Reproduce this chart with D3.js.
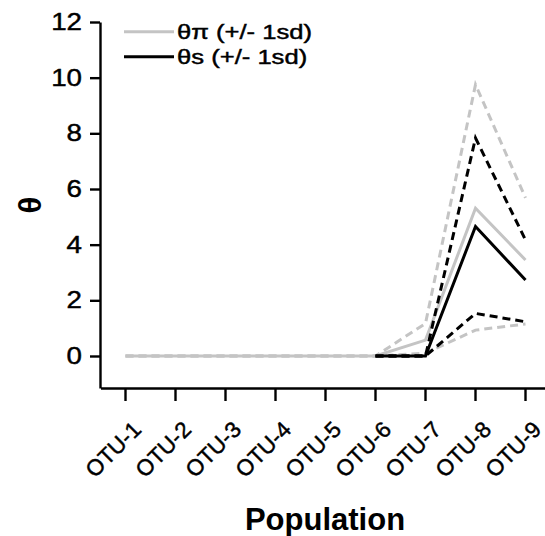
<!DOCTYPE html>
<html>
<head>
<meta charset="utf-8">
<script src="https://cdn.jsdelivr.net/npm/d3@7"></script>
<style>
  body { margin: 0; background: #fff; }
  text { font-family: "Liberation Sans", Arial, Helvetica, sans-serif; }
</style>
</head>
<body>
<svg></svg>
<script>
var populations = ['OTU-1', 'OTU-2', 'OTU-3', 'OTU-4', 'OTU-5', 'OTU-6', 'OTU-7', 'OTU-8', 'OTU-9'];

// theta pi (grey) with +/- 1 sd
var thetaPi      = [0, 0, 0, 0, 0, 0, 0.57, 5.31, 3.45];
var thetaPiUpper = [0, 0, 0, 0, 0, 0, 1.17, 9.75, 5.68];
var thetaPiLower = [0, 0, 0, 0, 0, 0, 0.10, 0.93, 1.15];

// theta s (black) with +/- 1 sd, only drawn from OTU-6 on
var thetaS      = [null, null, null, null, null, 0, 0, 4.65, 2.73];
var thetaSUpper = [null, null, null, null, null, 0, 0, 7.83, 4.17];
var thetaSLower = [null, null, null, null, null, 0, 0, 1.53, 1.23];

var yTicks = [0, 2, 4, 6, 8, 10, 12];
var legendLabels = ['θπ (+/- 1sd)', 'θs (+/- 1sd)'];

var width = 545;
var height = 536;
var grey = '#c4c4c4';

var svg = d3.select('svg')
    .attr('width', width)
    .attr('height', height);

var x = d3.scaleBand()
    .domain(populations)
    .range([100.5, 550.5]);

var y = d3.scaleLinear()
    .domain([-1.15, 12])
    .range([388, 22]);

var xAxis = svg.append('g')
    .attr('transform', 'translate(0,388)')
    .call(d3.axisBottom(x).tickSize(13).tickSizeOuter(0));

xAxis.selectAll('text')
    .attr('x', 0)
    .attr('y', 0)
    .attr('dy', 0)
    .attr('fill', '#000')
    .attr('text-anchor', 'end')
    .style('font-size', '22.5px')
    .attr('transform', 'translate(17,43) rotate(-45)');

var yAxis = svg.append('g')
    .attr('transform', 'translate(100,0)')
    .call(d3.axisLeft(y).tickValues(yTicks).tickSize(10).tickSizeOuter(0));

// tick labels in the reference are set wide, so stretch them a little
yAxis.selectAll('text')
    .attr('x', 0)
    .attr('fill', '#000')
    .style('font-size', '23.5px')
    .attr('transform', 'translate(-18,0) scale(1.18,1)');

svg.selectAll('.domain, .tick line')
    .attr('stroke', '#000')
    .attr('stroke-width', 2.4);

var line = d3.line()
    .defined(d => d != null)
    .x((d, i) => x(populations[i]) + x.bandwidth() / 2)
    .y(d => y(d));

var series = [
  { values: thetaPiUpper, color: grey, dash: '8,5' },
  { values: thetaPiLower, color: grey, dash: '8,5' },
  { values: thetaPi, color: grey, dash: null },
  { values: thetaSUpper, color: '#000', dash: '8,5' },
  { values: thetaSLower, color: '#000', dash: '8,5' },
  { values: thetaS, color: '#000', dash: null }
];

svg.append('g')
  .selectAll('path')
  .data(series)
  .enter()
  .append('path')
    .attr('d', d => line(d.values))
    .attr('fill', 'none')
    .attr('stroke', d => d.color)
    .attr('stroke-width', 3)
    .attr('stroke-dasharray', d => d.dash);

// legend
var legend = svg.append('g')
  .selectAll('g')
  .data(legendLabels)
  .enter()
  .append('g')
    .attr('transform', (d, i) => 'translate(124,' + (31.7 + i * 25) + ')');

legend.append('line')
    .attr('x1', 0)
    .attr('x2', 50)
    .attr('stroke', (d, i) => i === 0 ? grey : '#000')
    .attr('stroke-width', 3);

legend.append('text')
    .attr('transform', 'translate(53,7.5) scale(1.22,1)')
    .style('font-size', '21px')
    .text(d => d);

// the reference glyphs are heavier than Liberation Sans regular
svg.selectAll('.tick text, g text')
    .attr('stroke', '#000')
    .attr('stroke-width', 0.45);

// axis titles
svg.append('text')
    .attr('transform', 'translate(41,205) rotate(-90)')
    .attr('text-anchor', 'middle')
    .style('font-size', '31px')
    .style('font-weight', 'bold')
    .text('θ');

svg.append('text')
    .attr('x', 325)
    .attr('y', 530)
    .attr('text-anchor', 'middle')
    .style('font-size', '31px')
    .style('font-weight', 'bold')
    .text('Population');
</script>
</body>
</html>
